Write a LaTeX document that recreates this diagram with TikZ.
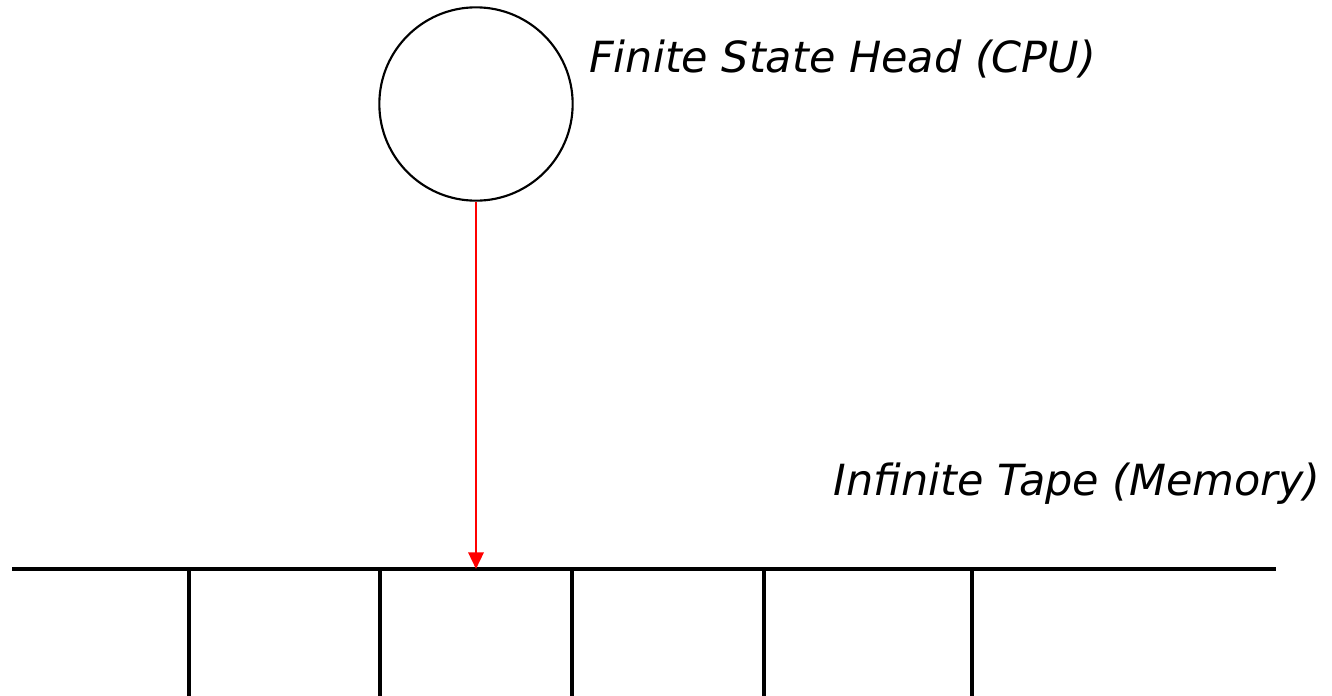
\documentclass[tikz,border=0pt]{standalone}
\usepackage{fontspec}
\setmainfont{DejaVu Sans}
\usepackage{xcolor}
\usetikzlibrary{arrows.meta,positioning}
\definecolor{probered}{HTML}{FF0000}

\begin{document}
\begin{tikzpicture}[
  x=0.75pt, y=-0.75pt,
  head/.style={draw, circle, minimum size=145pt, line width=1.6pt, inner sep=0pt},
  caption/.style={inner sep=0pt, font=\itshape\fontsize{32.2}{38}\selectfont},
  tape/.style={line width=2.4pt, black},
  probe/.style={-{Triangle[length=12.5pt, width=11.5pt]}, probered, line width=1.8pt},
]
\useasboundingbox (0,0) rectangle (1332,696);

% --- the finite control, with its name to the right
\node[head] (cpu) at (476,104) {};
\node[caption, anchor=base west] (cpuname) at (589,72) {Finite State Head (CPU)};

% --- the tape: one long edge, the cells hang below it and run off the page
\node[caption, anchor=base east] (tapename) at (1321,495) {Infinite Tape (Memory)};
\coordinate (tapeL) at (12,569);
\coordinate (tapeR) at (1276,569);
\draw[tape] (tapeL) -- (tapeR);
\foreach \cx in {189,380,572,764,972}
  \draw[tape] (\cx,569) -- (\cx,696);

% --- the head reads the cell straight below it
\coordinate (slot) at (cpu.south |- tapeL);
\draw[probe] (cpu.south) -- (slot);
\end{tikzpicture}
\end{document}
